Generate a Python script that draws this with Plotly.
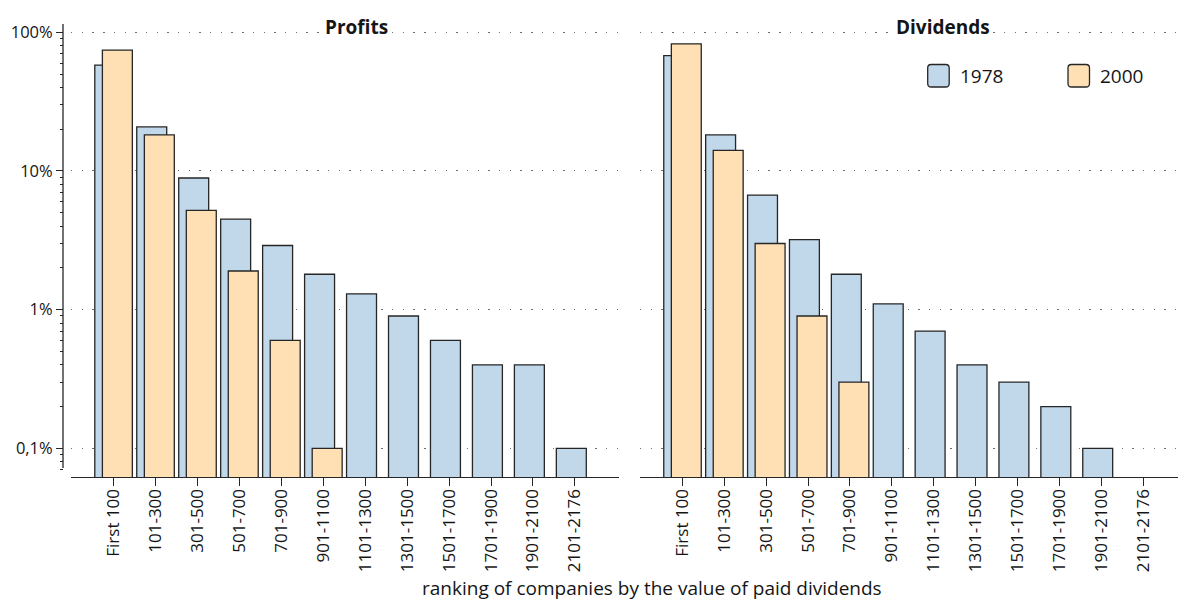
import plotly.graph_objects as go

# ---------------- data ----------------
categories = ["First 100", "101-300", "301-500", "501-700", "701-900", "901-1100",
              "1101-1300", "1301-1500", "1501-1700", "1701-1900", "1901-2100", "2101-2176"]

profits_1978 = [58, 20.8, 8.9, 4.5, 2.9, 1.8, 1.3, 0.9, 0.6, 0.4, 0.4, 0.1]
profits_2000 = [74.5, 18.2, 5.2, 1.9, 0.6, 0.1, None, None, None, None, None, None]

dividends_1978 = [68, 18.2, 6.7, 3.2, 1.8, 1.1, 0.7, 0.4, 0.3, 0.2, 0.1, None]
dividends_2000 = [82.6, 14.1, 3.0, 0.9, 0.3, None, None, None, None, None, None, None]

series_names = ["1978", "2000"]
panel_titles = ["Profits", "Dividends"]
y_tickvals = [0.1, 1, 10, 100]
y_ticktext = ["0,1%", "1%", "10%", "100%"]
x_title = "ranking of companies by the value of paid dividends"

# ---------------- style ----------------
W, H = 1178, 602
FONT = "Open Sans"
TXT = "#151515"
EDGE = "#262626"
BLUE = "#c1d7ea"
ORANGE = "#fee0b4"
GRID = "#6e6e6e"


def fx(px):
    return px / W


def fy(py):
    return 1 - py / H


bar_w = 0.714
off_1978 = -0.443
off_2000 = -0.262

fig = go.Figure()


def add_bars(vals, color, offset, xa, ya, name):
    fig.add_trace(go.Bar(
        x=categories, y=vals, name=name, xaxis=xa, yaxis=ya,
        width=bar_w, offset=offset,
        marker=dict(color=color, line=dict(color=EDGE, width=1.3)),
        showlegend=False, hoverinfo="x+y",
    ))


add_bars(profits_1978, BLUE, off_1978, "x", "y", series_names[0])
add_bars(profits_2000, ORANGE, off_2000, "x", "y", series_names[1])
add_bars(dividends_1978, BLUE, off_1978, "x2", "y2", series_names[0])
add_bars(dividends_2000, ORANGE, off_2000, "x2", "y2", series_names[1])

minor_vals = [k * 10 ** e for e in (-2, -1, 0, 1) for k in range(2, 10)]
minor_vals = [v for v in minor_vals if 0.065 < v < 100]

y_dom = [fy(477), fy(24)]
y_rng = [-1.207, 2.06]

xcommon = dict(
    type="category", showline=True, linecolor=EDGE, linewidth=1.3,
    ticks="outside", ticklen=8, tickwidth=1.3, tickcolor=EDGE,
    tickangle=-90, tickfont=dict(family=FONT, size=17, color=TXT),
    ticklabelstandoff=-4,
    showgrid=False, zeroline=False, automargin=False, fixedrange=True,
)

grid_common = dict(showgrid=True, gridcolor=GRID, gridwidth=1.4, griddash="1.4px,9.3px")

fig.update_layout(
    width=W, height=H,
    margin=dict(l=0, r=0, t=0, b=0),
    paper_bgcolor="white", plot_bgcolor="white",
    barmode="overlay",
    showlegend=False,
    font=dict(family=FONT, color=TXT),
    xaxis=dict(domain=[fx(71), fx(619)], anchor="y", range=[-1.01, 12.05], **xcommon),
    xaxis2=dict(domain=[fx(640), 1.0], anchor="y2", range=[-1.01, 11.83], **xcommon),
    yaxis=dict(
        type="log", domain=y_dom, range=y_rng, anchor="free", position=fx(63),
        tickmode="array", tickvals=y_tickvals, ticktext=y_ticktext,
        ticks="outside", ticklen=7, tickwidth=1.3, tickcolor=EDGE,
        tickfont=dict(family=FONT, size=16.5, color=TXT),
        showline=False, zeroline=False, automargin=False, fixedrange=True,
        minor=dict(ticks="outside", ticklen=3.5, tickwidth=1.2, tickcolor=EDGE,
                   tickmode="array", tickvals=minor_vals, showgrid=False),
        **grid_common,
    ),
    yaxis2=dict(
        type="log", domain=y_dom, range=y_rng, anchor="x2",
        tickmode="array", tickvals=y_tickvals, showticklabels=False, ticks="",
        showline=False, zeroline=False, automargin=False, fixedrange=True,
        **grid_common,
    ),
)

shapes = []
# detached y-axis line
shapes.append(dict(type="line", xref="paper", yref="paper",
                   x0=fx(63), x1=fx(63), y0=fy(24), y1=fy(468),
                   line=dict(color=EDGE, width=1.3)))


def rounded_rect(x0, y0, x1, y1, r=3.5):
    # pixel coords -> paper path
    X0, X1 = fx(x0), fx(x1)
    Y0, Y1 = fy(y0), fy(y1)  # Y0 top (larger)
    rx, ry = r / W, r / H
    return (f"M {X0+rx},{Y0} L {X1-rx},{Y0} Q {X1},{Y0} {X1},{Y0-ry} "
            f"L {X1},{Y1+ry} Q {X1},{Y1} {X1-rx},{Y1} "
            f"L {X0+rx},{Y1} Q {X0},{Y1} {X0},{Y1+ry} "
            f"L {X0},{Y0-ry} Q {X0},{Y0} {X0+rx},{Y0} Z")


legend_items = [(927.7, BLUE, series_names[0]), (1068, ORANGE, series_names[1])]
annotations = []
for lx, col, name in legend_items:
    shapes.append(dict(type="path", xref="paper", yref="paper",
                       path=rounded_rect(lx, 64.5, lx + 21.5, 87),
                       fillcolor=col, line=dict(color=EDGE, width=1.3)))
    annotations.append(dict(xref="paper", yref="paper", x=fx(lx + 30), y=fy(76),
                            xanchor="left", yanchor="middle", showarrow=False,
                            text=name, font=dict(family=FONT, size=19, color=TXT)))

for title, cx in zip(panel_titles, [356, 942.5]):
    annotations.append(dict(xref="paper", yref="paper", x=fx(cx), y=fy(27),
                            xanchor="center", yanchor="middle", showarrow=False,
                            text=f"<b>{title}</b>", bgcolor="white", borderpad=1,
                            font=dict(family=FONT, size=19, color=TXT)))

annotations.append(dict(xref="paper", yref="paper", x=fx(652), y=fy(587.5),
                        xanchor="center", yanchor="middle", showarrow=False,
                        text=x_title, font=dict(family=FONT, size=19, color=TXT)))

fig.update_layout(shapes=shapes, annotations=annotations)

fig.write_html("out.html")
